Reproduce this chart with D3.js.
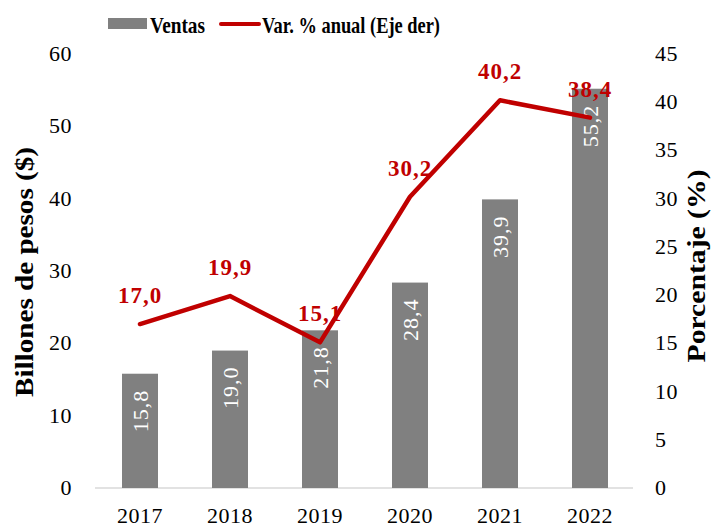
<!DOCTYPE html>
<html>
<head>
<meta charset="utf-8">
<script src="https://cdn.jsdelivr.net/npm/d3@7"></script>
<style>
  body { margin: 0; background: #fff; }
  text { font-family: "Liberation Serif", "DejaVu Serif", serif; }
</style>
</head>
<body>
<div id="chart"></div>
<script>
// Data
const years = ['2017', '2018', '2019', '2020', '2021', '2022'];
const ventas = [15.8, 19.0, 21.8, 28.4, 39.9, 55.2];
const variacion = [17.0, 19.9, 15.1, 30.2, 40.2, 38.4];
const leftTicks = [0, 10, 20, 30, 40, 50, 60];
const rightTicks = [0, 5, 10, 15, 20, 25, 30, 35, 40, 45];

const width = 713;
const height = 527;
const fmt = v => v.toFixed(1).replace('.', ',');

const svg = d3.select('#chart')
    .append('svg')
    .attr('width', width)
    .attr('height', height);

// Scales
const x = d3.scaleBand().domain(years).range([95, 635]).paddingInner(0.6).paddingOuter(0.3);
const yL = d3.scaleLinear().domain([0, 60]).range([488, 54]);
const yR = d3.scaleLinear().domain([0, 45]).range([488, 54]);

// Left axis labels
svg.selectAll('.tl')
    .data(leftTicks)
    .enter()
    .append('text')
    .attr('x', 72)
    .attr('y', d => yL(d) + 7)
    .attr('text-anchor', 'end')
    .attr('font-size', 22)
    .attr('letter-spacing', 0.5)
    .text(d => d);

// Right axis labels
svg.selectAll('.tr')
    .data(rightTicks)
    .enter()
    .append('text')
    .attr('x', 655)
    .attr('y', d => yR(d) + 7)
    .attr('font-size', 22)
    .attr('letter-spacing', 0.5)
    .text(d => d);

// Baseline
svg.append('line')
    .attr('x1', 95).attr('x2', 633)
    .attr('y1', yL(0)).attr('y2', yL(0))
    .attr('stroke', '#d9d9d9')
    .attr('stroke-width', 1.5);

// Year labels
svg.selectAll('.yr')
    .data(years)
    .enter()
    .append('text')
    .attr('x', d => x(d) + x.bandwidth() / 2)
    .attr('y', 523)
    .attr('text-anchor', 'middle')
    .attr('font-size', 22)
    .attr('letter-spacing', 0.5)
    .text(d => d);

// Bars
svg.selectAll('.bar')
    .data(ventas)
    .enter()
    .append('rect')
    .attr('x', (d, i) => x(years[i]))
    .attr('y', d => yL(d))
    .attr('width', x.bandwidth())
    .attr('height', d => yL(0) - yL(d))
    .attr('fill', '#808080');

// Bar labels (rotated, inside end)
svg.selectAll('.bl')
    .data(ventas)
    .enter()
    .append('text')
    .attr('transform', (d, i) => `translate(${x(years[i]) + x.bandwidth() / 2 + 8},${yL(d) + 16}) rotate(-90)`)
    .attr('text-anchor', 'end')
    .attr('font-size', 22)
    .attr('letter-spacing', 1)
    .attr('fill', '#fff')
    .text(d => fmt(d));

// Line
const line = d3.line()
    .x((d, i) => x(years[i]) + x.bandwidth() / 2)
    .y(d => yR(d));

svg.append('path')
    .datum(variacion)
    .attr('d', line)
    .attr('fill', 'none')
    .attr('stroke', '#c00000')
    .attr('stroke-width', 4.5)
    .attr('stroke-linejoin', 'round')
    .attr('stroke-linecap', 'round');

// Line labels
svg.selectAll('.ll')
    .data(variacion)
    .enter()
    .append('text')
    .attr('x', (d, i) => x(years[i]) + x.bandwidth() / 2)
    .attr('y', d => yR(d) - 21)
    .attr('text-anchor', 'middle')
    .attr('font-size', 23)
    .attr('font-weight', 'bold')
    .attr('letter-spacing', 1)
    .attr('fill', '#c00000')
    .text(d => fmt(d));

// Axis titles
svg.append('text')
    .attr('transform', 'translate(33,272) rotate(-90)')
    .attr('text-anchor', 'middle')
    .attr('font-size', 25)
    .attr('font-weight', 'bold')
    .attr('textLength', 250)
    .attr('lengthAdjust', 'spacingAndGlyphs')
    .text('Billones de pesos ($)');

svg.append('text')
    .attr('transform', 'translate(705,266) rotate(-90)')
    .attr('text-anchor', 'middle')
    .attr('font-size', 25)
    .attr('font-weight', 'bold')
    .attr('textLength', 193)
    .attr('lengthAdjust', 'spacingAndGlyphs')
    .text('Porcentaje (%)');

// Legend
svg.append('rect')
    .attr('x', 108).attr('y', 18)
    .attr('width', 39).attr('height', 11)
    .attr('fill', '#808080');

svg.append('text')
    .attr('x', 150).attr('y', 33)
    .attr('font-size', 24)
    .attr('font-weight', 'bold')
    .attr('textLength', 55)
    .attr('lengthAdjust', 'spacingAndGlyphs')
    .text('Ventas');

svg.append('line')
    .attr('x1', 221).attr('x2', 259)
    .attr('y1', 24).attr('y2', 24)
    .attr('stroke', '#c00000')
    .attr('stroke-width', 4)
    .attr('stroke-linecap', 'round');

svg.append('text')
    .attr('x', 262).attr('y', 33)
    .attr('font-size', 24)
    .attr('font-weight', 'bold')
    .attr('textLength', 178)
    .attr('lengthAdjust', 'spacingAndGlyphs')
    .text('Var. % anual (Eje der)');
</script>
</body>
</html>
